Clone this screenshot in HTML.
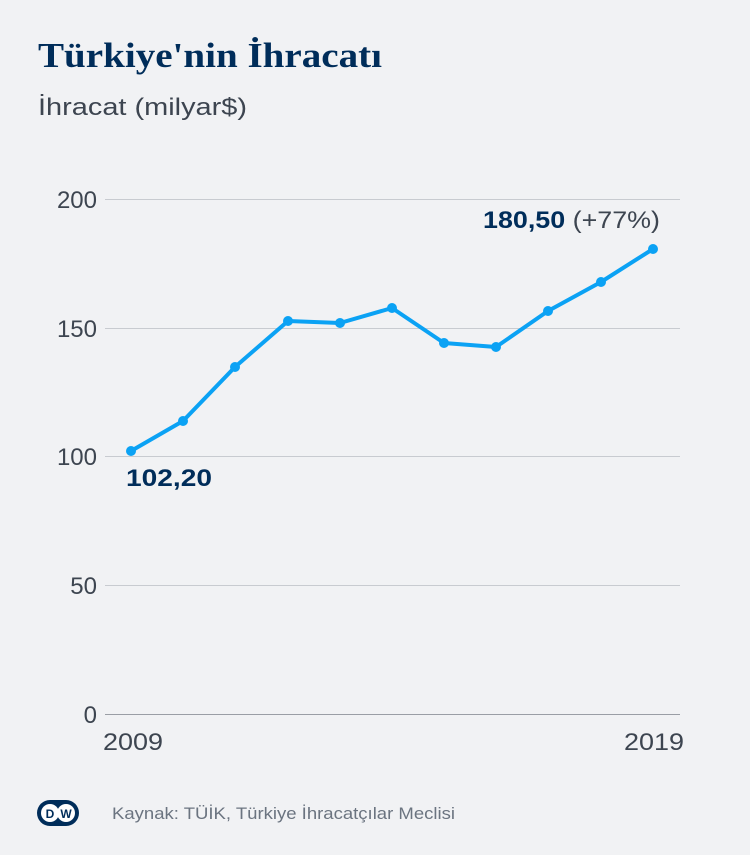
<!DOCTYPE html>
<html><head><meta charset="utf-8"><style>
body{margin:0;background:#f1f2f4;}
svg{display:block}
</style></head><body>
<svg width="750" height="855" xmlns="http://www.w3.org/2000/svg" font-family="'Liberation Sans', sans-serif">
<rect width="750" height="855" fill="#f1f2f4"/>
<text x="38" y="67" font-family="'Liberation Serif', serif" font-weight="bold" font-size="35" fill="#002d5a" textLength="344" lengthAdjust="spacingAndGlyphs">Türkiye'nin İhracatı</text>
<text x="38" y="115" font-size="24" fill="#3d4550" textLength="209" lengthAdjust="spacingAndGlyphs">İhracat (milyar$)</text>
<g stroke="#c8cbd0" stroke-width="1">
<line x1="105" y1="199.5" x2="680" y2="199.5"/>
<line x1="105" y1="328.5" x2="680" y2="328.5"/>
<line x1="105" y1="456.5" x2="680" y2="456.5"/>
<line x1="105" y1="585.5" x2="680" y2="585.5"/>
</g>
<line x1="105" y1="714.5" x2="680" y2="714.5" stroke="#9a9ea5" stroke-width="1"/>
<g font-size="24" fill="#3d4550" text-anchor="end">
<text x="97" y="208">200</text>
<text x="97" y="337">150</text>
<text x="97" y="465">100</text>
<text x="97" y="594">50</text>
<text x="97" y="723">0</text>
</g>
<text x="103" y="750" font-size="24" fill="#3d4550" textLength="60" lengthAdjust="spacingAndGlyphs">2009</text>
<text x="624" y="750" font-size="24" fill="#3d4550" textLength="60" lengthAdjust="spacingAndGlyphs">2019</text>
<polyline fill="none" stroke="#0ba2f4" stroke-width="4" stroke-linejoin="round"
points="131,451 183,421 235,367 288,321 340,323 392,308 444,343 496,347 548,311 601,282 653,249"/>
<g fill="#0ba2f4">
<circle cx="131" cy="451" r="5"/><circle cx="183" cy="421" r="5"/><circle cx="235" cy="367" r="5"/>
<circle cx="288" cy="321" r="5"/><circle cx="340" cy="323" r="5"/><circle cx="392" cy="308" r="5"/>
<circle cx="444" cy="343" r="5"/><circle cx="496" cy="347" r="5"/><circle cx="548" cy="311" r="5"/>
<circle cx="601" cy="282" r="5"/><circle cx="653" cy="249" r="5"/>
</g>
<text x="126" y="486" font-size="24" font-weight="bold" fill="#002d5a" textLength="86" lengthAdjust="spacingAndGlyphs">102,20</text>
<text x="483" y="228" font-size="24" fill="#002d5a" textLength="177" lengthAdjust="spacingAndGlyphs"><tspan font-weight="bold">180,50</tspan><tspan fill="#3d4550"> (+77%)</tspan></text>
<g>
<rect x="37" y="800" width="42" height="26" rx="13" fill="#002d5a"/>
<circle cx="50" cy="813" r="9" fill="#fff"/>
<circle cx="66" cy="813" r="9" fill="#fff"/>
<text x="50" y="818" font-size="12" font-weight="bold" text-anchor="middle" fill="#002d5a">D</text>
<text x="66" y="818" font-size="12" font-weight="bold" text-anchor="middle" fill="#002d5a">W</text>
</g>
<text x="112" y="819" font-size="17" fill="#6b7480" textLength="343" lengthAdjust="spacingAndGlyphs">Kaynak: TÜİK, Türkiye İhracatçılar Meclisi</text>
</svg>
</body></html>
